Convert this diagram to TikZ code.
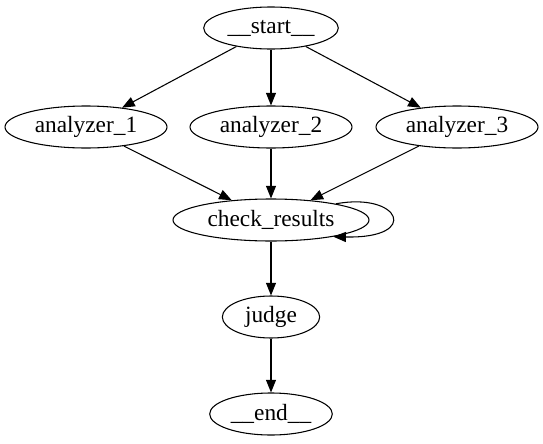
\documentclass[tikz,border=0pt]{standalone}
\usepackage{fontspec}
\setmainfont{Liberation Serif}
\usetikzlibrary{arrows.meta, shapes.geometric}

\begin{document}
\begin{tikzpicture}[x=0.75pt, y=-0.75pt, >={Triangle[length=9.5pt, width=7.5pt]},
    font=\fontsize{17.5}{21}\selectfont,
    state/.style={draw, ellipse, line width=0.8pt, inner sep=0pt, minimum height=31.5pt},
    flow/.style={->, line width=0.8pt}]
    \useasboundingbox (0,0) rectangle (543,443);
    % Nodes
    \node[state, minimum width=101pt] (start) at (271,28) {\_\_start\_\_};
    \node[state, minimum width=121.5pt] (an1) at (86,127) {analyzer\_1};
    \node[state, minimum width=121.5pt] (an2) at (271,127) {analyzer\_2};
    \node[state, minimum width=121.5pt] (an3) at (457,127) {analyzer\_3};
    \node[state, minimum width=147pt] (check) at (271,220) {check\_results};
    \node[state, minimum width=73pt] (judge) at (271,317) {judge};
    \node[state, minimum width=92pt] (end) at (271,414) {\_\_end\_\_};
    % Edges
    \draw[flow] (start) -- (an1);
    \draw[flow] (start) -- (an2);
    \draw[flow] (start) -- (an3);
    \draw[flow] (an1) -- (check);
    \draw[flow] (an2) -- (check);
    \draw[flow] (an3) -- (check);
    \draw[flow] (check.14) .. controls +(64,-12) and +(88,2) .. (check.-15);
    \draw[flow] (check) -- (judge);
    \draw[flow] (judge) -- (end);
\end{tikzpicture}
\end{document}
